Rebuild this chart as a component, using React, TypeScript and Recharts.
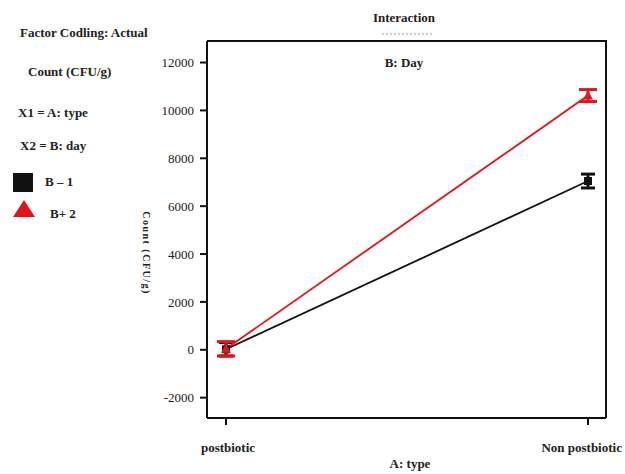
import React from 'react';
import { LineChart, Line, XAxis, YAxis, ErrorBar } from 'recharts';

const types = ['postbiotic', 'Non postbiotic'];
const day1 = [20, 7050];
const day1Err = [280, 290];
const day2 = [40, 10620];
const day2Err = [300, 250];
const yTicks = [-2000, 0, 2000, 4000, 6000, 8000, 10000, 12000];

const data = types.map((t, i) => ({
  type: t,
  b1: day1[i],
  b1e: day1Err[i],
  b2: day2[i],
  b2e: day2Err[i],
}));

const serif = '"Liberation Serif", "Times New Roman", serif';

const SquareDot = (props: any) => {
  const { cx, cy } = props;
  if (cx == null || cy == null) return null;
  return <rect x={cx - 4} y={cy - 4} width={8} height={8} fill="#111" />;
};

const TriDot = (props: any) => {
  const { cx, cy } = props;
  if (cx == null || cy == null) return null;
  return <path d={`M${cx},${cy - 5} L${cx + 5},${cy + 4} L${cx - 5},${cy + 4} Z`} fill="#d81e22" />;
};

// nudge the labels a little to sit where the original has them
const TypeTick = (props: any) => {
  const { x, y, payload, index } = props;
  const dx = index === types.length - 1 ? 4 : 2;
  return (
    <text x={x + dx} y={y} dy="0.71em" textAnchor="middle" fontSize={13} fontWeight="bold" fill="#222" fontFamily={serif}>
      {payload.value}
    </text>
  );
};

export default function App() {
  return (
    <div style={{ position: 'absolute', left: 0, top: 0, width: 625, height: 474, background: '#fff', fontFamily: serif }}>
      <LineChart width={625} height={474} data={data} margin={{ top: 41, right: 19, bottom: 0, left: 0 }}>
        <XAxis
          dataKey="type"
          height={56}
          padding={{ left: 19, right: 18 }}
          stroke="#111"
          strokeWidth={2}
          tickSize={7}
          tickMargin={18}
          tick={<TypeTick />}
        />
        <YAxis
          width={207}
          domain={[-2850, 12900]}
          ticks={yTicks}
          allowDataOverflow
          stroke="#111"
          strokeWidth={2}
          tickSize={7}
          tickMargin={6}
          tick={{ fontSize: 13, fill: '#222', fontFamily: serif }}
        />
        <Line dataKey="b1" stroke="#111" strokeWidth={1.8} dot={<SquareDot />} isAnimationActive={false}>
          <ErrorBar dataKey="b1e" width={7} stroke="#111" strokeWidth={3} />
        </Line>
        <Line dataKey="b2" stroke="#e3131b" strokeWidth={1.8} dot={<TriDot />} isAnimationActive={false}>
          <ErrorBar dataKey="b2e" width={9} stroke="#e3131b" strokeWidth={3} />
        </Line>
      </LineChart>
      <svg width={625} height={474} style={{ position: 'absolute', left: 0, top: 0, pointerEvents: 'none' }}>
        {/* frame: top and right sides of the plot box */}
        <polyline points="207,41 606,41 606,418" fill="none" stroke="#111" strokeWidth={2} />
        <g fontFamily={serif} fontWeight="bold" fontSize={13} fill="#222">
          <text x={404} y={22} textAnchor="middle">Interaction</text>
          <text x={404} y={67} textAnchor="middle">B: Day</text>
          <text x={410} y={468} textAnchor="middle">A: type</text>
          <text x={20} y={37}>Factor Codling: Actual</text>
          <text x={28} y={76}>Count (CFU/g)</text>
          <text x={18} y={117}>X1 = A: type</text>
          <text x={20} y={150}>X2 = B: day</text>
          <text x={45} y={186}>B – 1</text>
          <text x={50} y={218}>B+ 2</text>
        </g>
        <line x1={382} x2={432} y1={34} y2={34} stroke="#999" strokeWidth={1} strokeDasharray="2 2" />
        <rect x={13} y={173} width={20} height={19} fill="#111" />
        <path d="M24,200 L35,217 L13,217 Z" fill="#e3131b" />
        <text
          x={143}
          y={253}
          transform="rotate(90 143 253)"
          textAnchor="middle"
          fontFamily={serif}
          fontSize={10}
          fontWeight="bold"
          letterSpacing={1.5}
          fill="#222"
        >
          Count (CFU/g)
        </text>
      </svg>
    </div>
  );
}
